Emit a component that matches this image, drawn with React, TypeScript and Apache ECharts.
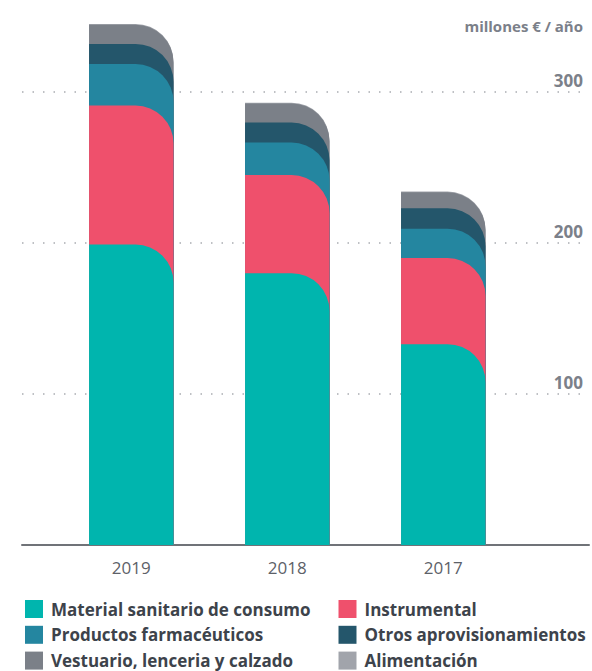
import React, { useEffect, useRef } from "react";
import * as echarts from "echarts";

const categories = ["2019", "2018", "2017"];
const material = [199, 180, 133];
const instrumental = [92, 65, 57];
const productos = [27.5, 21.5, 19.5];
const otros = [13.3, 13.3, 13.5];
const vestuario = [12.8, 12.6, 10.6];
const alimentacion = [0.5, 0.5, 0.5];

const seriesNames = [
  "Material sanitario de consumo",
  "Instrumental",
  "Productos farmacéuticos",
  "Otros aprovisionamientos",
  "Vestuario, lenceria y calzado",
  "Alimentación",
];
const seriesColors = ["#00b5ae", "#ef506c", "#2486a0", "#24566b", "#7b8088", "#a1a4ab"];
const yMin = 0;
const yMax = 300;
const yInterval = 100;
const unitLabel = "millones € / año";

export default function App() {
  const ref = useRef<HTMLDivElement>(null);
  useEffect(() => {
    if (!ref.current) return;
    const chart = echarts.init(ref.current, undefined, { renderer: "svg" });
    const segments = [material, instrumental, productos, otros, vestuario, alimentacion];
    const cumulative: number[][] = [];
    segments.forEach((seg, i) => {
      cumulative.push(seg.map((v, j) => (i === 0 ? v : cumulative[i - 1][j] + v)));
    });
    const font = "'Open Sans', sans-serif";
    const barSeries = [...seriesNames.keys()].reverse().map((i) => ({
      name: seriesNames[i],
      type: "bar",
      xAxisIndex: 1,
      yAxisIndex: 1,
      barWidth: 84.5,
      barGap: "-100%",
      clip: false,
      itemStyle: { color: seriesColors[i], borderRadius: [0, 38, 0, 0] },
      data: cumulative[i],
    }));
    const legendText = {
      fontSize: 17,
      fontWeight: "bold",
      color: "#3d434b",
      fontFamily: font,
      lineHeight: 18,
      padding: [0, 0, 0, 3],
    };
    chart.setOption({
      animation: false,
      title: {
        text: unitLabel,
        right: 9,
        top: 18,
        padding: 0,
        textStyle: { fontSize: 15, fontWeight: "bold", color: "#7b8089", fontFamily: font },
      },
      legend: [
        {
          left: 25,
          top: 600,
          orient: "vertical",
          icon: "rect",
          itemWidth: 18,
          itemHeight: 18,
          itemGap: 7.8,
          padding: 0,
          selectedMode: false,
          data: [seriesNames[0], seriesNames[2], seriesNames[4]],
          textStyle: legendText,
        },
        {
          left: 338.5,
          top: 600,
          orient: "vertical",
          icon: "rect",
          itemWidth: 18,
          itemHeight: 18,
          itemGap: 7.8,
          padding: 0,
          selectedMode: false,
          data: [seriesNames[1], seriesNames[3], seriesNames[5]],
          textStyle: legendText,
        },
      ],
      grid: [
        { left: 22, right: 3, top: 92, bottom: 126 },
        { left: 53.3, right: 70.7, top: 92, bottom: 126 },
      ],
      xAxis: [
        {
          type: "value",
          gridIndex: 0,
          min: 0,
          max: 1,
          axisLine: { show: true, lineStyle: { color: "#707378", width: 2 } },
          axisTick: { show: false },
          axisLabel: { show: false },
          splitLine: { show: false },
        },
        {
          type: "category",
          gridIndex: 1,
          data: categories,
          axisLine: { show: false },
          axisTick: { show: false },
          axisLabel: { fontSize: 17, color: "#5d6168", fontFamily: font, margin: 14 },
        },
      ],
      yAxis: [
        {
          type: "value",
          gridIndex: 0,
          position: "right",
          min: yMin,
          max: yMax,
          interval: yInterval,
          axisLine: { show: false },
          axisTick: { show: false },
          splitLine: {
            show: true,
            lineStyle: { color: "#a9acb1", width: 1.5, type: [1.5, 9] },
          },
          axisLabel: {
            inside: true,
            margin: 6,
            align: "right",
            verticalAlign: "bottom",
            lineHeight: 18,
            padding: [0, 0, 3, 0],
            fontSize: 17,
            fontWeight: "bold",
            color: "#7b8089",
            fontFamily: font,
            formatter: (v: number) => (v === 0 ? "" : String(v)),
          },
        },
        {
          type: "value",
          gridIndex: 1,
          min: yMin,
          max: yMax,
          interval: yInterval,
          show: false,
          splitLine: { show: false },
        },
      ],
      series: barSeries,
    });
    return () => chart.dispose();
  }, []);
  return (
    <div
      ref={ref}
      style={{ position: "fixed", left: 0, top: 0, width: 592, height: 671, background: "#fff" }}
    />
  );
}
